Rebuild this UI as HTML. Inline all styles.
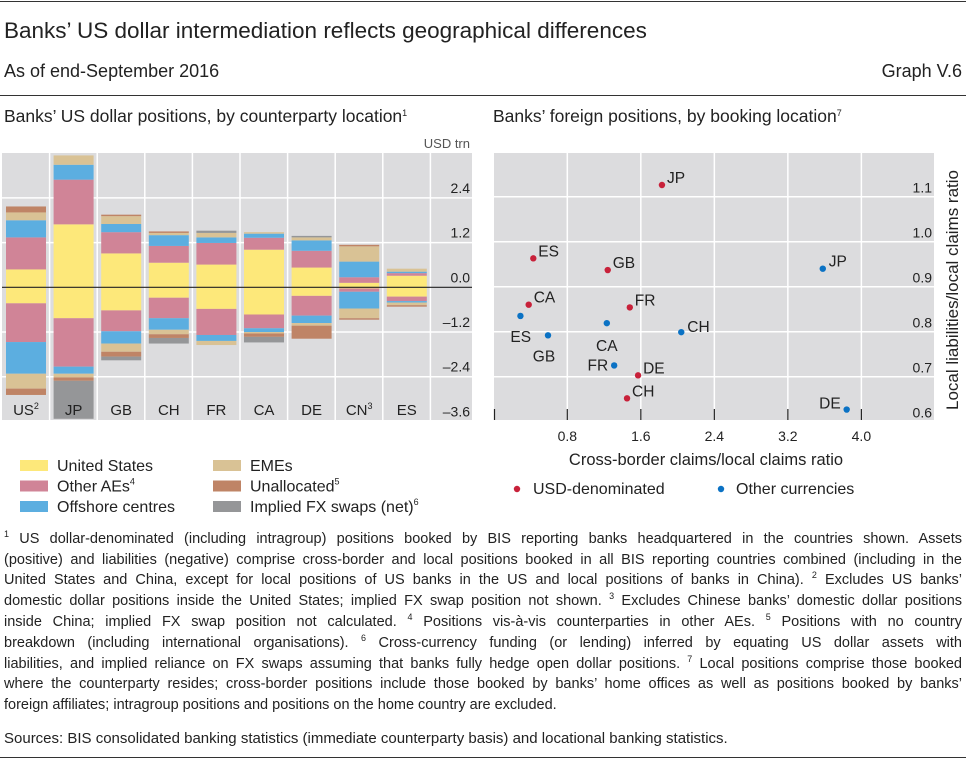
<!DOCTYPE html>
<html><head><meta charset="utf-8"><style>
body{margin:0;background:#fff;width:966px;height:762px;overflow:hidden;font-family:"Liberation Sans",sans-serif;color:#222;position:relative}
.a{position:absolute;white-space:nowrap}
.fn{position:absolute;left:4px;width:958px;font-size:14.5px;word-spacing:-1px;text-align:justify;text-align-last:justify;white-space:nowrap;line-height:18px;height:18px}
.fn sup,.a sup{font-size:9px;vertical-align:baseline;position:relative;top:-6px;line-height:0}
.hr{position:absolute;left:0;width:966px;height:1px;background:#333}
svg text{font-family:"Liberation Sans",sans-serif}
</style></head><body>
<div class="hr" style="top:1px"></div>
<div class="a" style="left:4px;top:18px;font-size:22.5px">Banks’ US dollar intermediation reflects geographical differences</div>
<div class="a" style="left:4px;top:61px;font-size:18px">As of end-September 2016</div>
<div class="a" style="right:4px;top:61px;font-size:18px">Graph V.6</div>
<div class="hr" style="top:95px"></div>
<div class="a" style="left:4px;top:106px;font-size:17.5px">Banks’ US dollar positions, by counterparty location<sup>1</sup></div>
<div class="a" style="left:493px;top:106px;font-size:17.5px">Banks’ foreign positions, by booking location<sup>7</sup></div>
<svg width="966" height="762" style="position:absolute;left:0;top:0" id="s"></svg>
<div class="fn" style="top:530px"><sup>1</sup> US dollar-denominated (including intragroup) positions booked by BIS reporting banks headquartered in the countries shown. Assets</div>
<div class="fn" style="top:551px">(positive) and liabilities (negative) comprise cross-border and local positions booked in all BIS reporting countries combined (including in the</div>
<div class="fn" style="top:571px">United States and China, except for local positions of US banks in the US and local positions of banks in China). <sup>2</sup> Excludes US banks’</div>
<div class="fn" style="top:592px">domestic dollar positions inside the United States; implied FX swap position not shown. <sup>3</sup> Excludes Chinese banks’ domestic dollar positions</div>
<div class="fn" style="top:613px">inside China; implied FX swap position not calculated. <sup>4</sup> Positions vis-à-vis counterparties in other AEs. <sup>5</sup> Positions with no country</div>
<div class="fn" style="top:634px">breakdown (including international organisations). <sup>6</sup> Cross-currency funding (or lending) inferred by equating US dollar assets with</div>
<div class="fn" style="top:655px">liabilities, and implied reliance on FX swaps assuming that banks fully hedge open dollar positions. <sup>7</sup> Local positions comprise those booked</div>
<div class="fn" style="top:675px">where the counterparty resides; cross-border positions include those booked by banks’ home offices as well as positions booked by banks’</div>
<div class="fn" style="top:696px;text-align-last:left;word-spacing:0">foreign affiliates; intragroup positions and positions on the home country are excluded.</div>
<div class="a" style="left:4px;top:730px;font-size:15px;line-height:18px">Sources: BIS consolidated banking statistics (immediate counterparty basis) and locational banking statistics.</div>
<div class="hr" style="top:757px"></div>
<script>
const categories=["US","JP","GB","CH","FR","CA","DE","CN","ES"];
const catSup=["2","","","","","","","3",""];
const seriesNames=["United States","Other AEs","Offshore centres","EMEs","Unallocated","Implied FX swaps (net)"];
const assetsUS=[0.48,1.69,0.91,0.66,0.61,1.01,0.53,0.12,0.31];
const assetsAE=[0.86,1.20,0.57,0.45,0.58,0.32,0.45,0.15,0.07];
const assetsOff=[0.46,0.40,0.22,0.29,0.15,0.11,0.28,0.42,0.04];
const assetsEME=[0.21,0.25,0.21,0.06,0.12,0.04,0.08,0.41,0.08];
const assetsUn=[0.16,0,0.04,0.04,0,0,0,0.04,0];
const assetsSw=[0,0,0,0,0.06,0,0.04,0,0];
const liabUS=[0.43,0.83,0.62,0.28,0.58,0.73,0.23,0.03,0.25];
const liabAE=[1.04,1.30,0.56,0.55,0.70,0.37,0.53,0.09,0.12];
const liabOff=[0.85,0.19,0.33,0.31,0.16,0.10,0.20,0.45,0.04];
const liabEME=[0.40,0.10,0.22,0.12,0.11,0.04,0.07,0.26,0.07];
const liabUn=[0.17,0.09,0.13,0.10,0,0.09,0.35,0.04,0.04];
const liabSw=[0,1.02,0.10,0.15,0,0.15,0,0,0];
const yTicksL=[2.4,1.2,0.0,-1.2,-2.4,-3.6];
const scatterCountries=["JP","ES","GB","CA","FR","DE","CH"];
const usdX=[1.83,0.43,1.24,0.38,1.48,1.57,1.45];
const usdY=[1.126,0.963,0.937,0.86,0.854,0.703,0.652];
const othX=[3.58,0.29,0.59,1.23,1.31,3.84,2.04];
const othY=[0.94,0.835,0.792,0.819,0.725,0.627,0.799];
const xTicksR=[0.8,1.6,2.4,3.2,4.0];
const yTicksR=[1.1,1.0,0.9,0.8,0.7,0.6];
const colors=["#fde87a","#d08497","#5caee0","#d9c295","#bf8466","#959698"];

const S=document.getElementById('s');const NS="http://www.w3.org/2000/svg";
function mk(t,a,p){const e=document.createElementNS(NS,t);for(const k in a)e.setAttribute(k,a[k]);(p||S).appendChild(e);return e;}
const fmt=v=>(v<0?"\u2013":"")+Math.abs(v).toFixed(1);
const yL=v=>287.3-v*37.25;
const colX=i=>2+47.6*i;
let e=mk('rect',{x:2,y:153,width:470,height:267,fill:'#dcdcde'});

yTicksL.forEach(v=>{if(v!==0){const g=mk('line',{x1:2,x2:472,y1:yL(v),y2:yL(v),stroke:'#fff','stroke-width':1.5});
}
const t=mk('text',{x:470,y:yL(v)-5,'text-anchor':'end','font-size':14,fill:'#222'});t.textContent=fmt(v);
});
for(let i=1;i<=9;i++){const g=mk('line',{x1:colX(i),x2:colX(i),y1:153,y2:420,stroke:'#fff','stroke-width':1.5});
}
const assets=[assetsUS,assetsAE,assetsOff,assetsEME,assetsUn,assetsSw];
const liabs=[liabUS,liabAE,liabOff,liabEME,liabUn,liabSw];
categories.forEach((c,i)=>{const bx=colX(i)+4;let p=0,n=0;
for(let s=0;s<6;s++){const a=assets[s][i];if(a>0){const r=mk('rect',{x:bx,y:yL(p+a),width:40,height:yL(p)-yL(p+a),fill:colors[s]});
p+=a;}
const l=liabs[s][i];if(l>0){const r=mk('rect',{x:bx,y:yL(-n),width:40,height:yL(-n-l)-yL(-n),fill:colors[s]});
n+=l;}}
const t=mk('text',{x:colX(i)+24,y:415,'text-anchor':'middle','font-size':15,fill:'#222'});t.textContent=c;
if(catSup[i]){const ts=mk('tspan',{'font-size':9,dy:-6},t);ts.textContent=catSup[i];}
});
e=mk('line',{x1:2,x2:472,y1:yL(0),y2:yL(0),stroke:'#222','stroke-width':1.2});

e=mk('text',{x:470,y:148,'text-anchor':'end','font-size':13,fill:'#555'});e.textContent="USD trn";

const sups=["","4","","","5","6"];
seriesNames.forEach((n,k)=>{const col=k<3?0:1,row=k%3;const lx=col?213:20,ly=460+row*20.5;
const r=mk('rect',{x:lx,y:ly,width:28,height:11,fill:colors[k]});

const t=mk('text',{x:lx+37,y:ly+11,'font-size':16,fill:'#222'});t.textContent=n;
if(sups[k]){const ts=mk('tspan',{'font-size':9,dy:-7},t);ts.textContent=sups[k];}
});
const xR=v=>567.3+(v-0.8)*91.9, yR=v=>196.7-(v-1.1)*450;
e=mk('rect',{x:494,y:153,width:440,height:267,fill:'#dcdcde'});

yTicksR.forEach(v=>{if(v>0.65){const g=mk('line',{x1:494,x2:934,y1:yR(v),y2:yR(v),stroke:'#fff','stroke-width':1.5});
}
const t=mk('text',{x:932,y:yR(v)-4,'text-anchor':'end','font-size':14,fill:'#222'});t.textContent=v.toFixed(1);
});
xTicksR.forEach(v=>{const g=mk('line',{x1:xR(v),x2:xR(v),y1:153,y2:420,stroke:'#fff','stroke-width':1.5});

const tk=mk('line',{x1:xR(v),x2:xR(v),y1:409,y2:420,stroke:'#222','stroke-width':1.2});

const t=mk('text',{x:xR(v),y:441,'text-anchor':'middle','font-size':14,fill:'#222'});t.textContent=v.toFixed(1);
});
e=mk('line',{x1:494.5,x2:494.5,y1:409,y2:420,stroke:'#222','stroke-width':1.2});

e=mk('text',{x:706,y:465,'text-anchor':'middle','font-size':16.5,fill:'#222'});e.textContent="Cross-border claims/local claims ratio";

e=mk('text',{x:0,y:0,'text-anchor':'middle','font-size':17,fill:'#222',transform:'translate(958,290) rotate(-90)'});e.textContent="Local liabilities/local claims ratio";

const othLab={JP:[6,-2,'start'],ES:[-10,26,'start'],GB:[-4,26,'middle'],CA:[0,28,'middle'],FR:[-6,5,'end'],DE:[-6,-1,'end'],CH:[6,0,'start']};
scatterCountries.forEach((c,i)=>{
const d=mk('circle',{cx:xR(usdX[i]),cy:yR(usdY[i]),r:3.2,fill:'#c8213a'});

const t=mk('text',{x:xR(usdX[i])+5,y:yR(usdY[i])-2,'font-size':15.5,fill:'#222'});t.textContent=c;

const d2=mk('circle',{cx:xR(othX[i]),cy:yR(othY[i]),r:3.2,fill:'#0b72c4'});

const o=othLab[c];const t2=mk('text',{x:xR(othX[i])+o[0],y:yR(othY[i])+o[1],'text-anchor':o[2],'font-size':15.5,fill:'#222'});t2.textContent=c;
});
e=mk('circle',{cx:517,cy:489,r:3.2,fill:'#c8213a'});
e=mk('text',{x:533,y:494,'font-size':16,fill:'#222'});e.textContent="USD-denominated";
e=mk('circle',{cx:721,cy:489,r:3.2,fill:'#0b72c4'});
e=mk('text',{x:736,y:494,'font-size':16,fill:'#222'});e.textContent="Other currencies";
</script>
</body></html>
